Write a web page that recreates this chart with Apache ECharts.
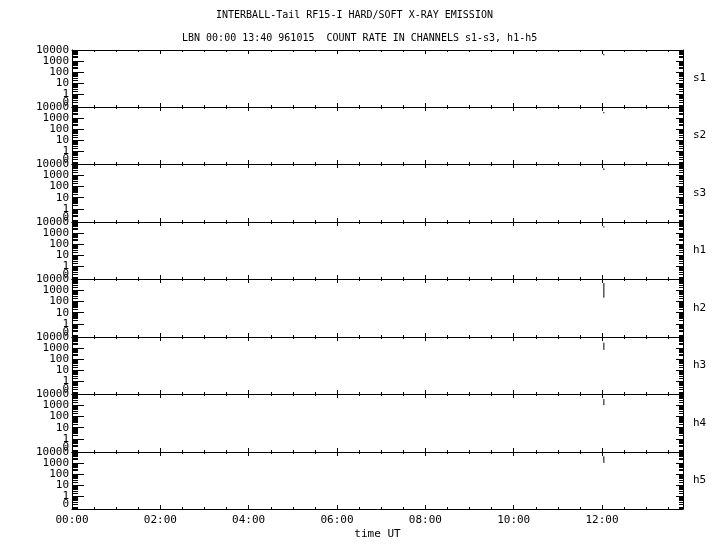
<!DOCTYPE html>
<html><head><meta charset="utf-8">
<script src="https://cdn.jsdelivr.net/npm/echarts@6/dist/echarts.min.js"></script>
<style>html,body{margin:0;padding:0;background:#fff}#c{width:720px;height:550px}</style>
</head><body><div id="c"></div>
<script>
// ---- data ----
const titleLine1 = 'INTERBALL-Tail RF15-I HARD/SOFT X-RAY EMISSION';
const titleLine2 = 'LBN 00:00 13:40 961015  COUNT RATE IN CHANNELS s1-s3, h1-h5';
const channels = ['s1', 's2', 's3', 'h1', 'h2', 'h3', 'h4', 'h5'];
// time of samples, minutes after 00:00 UT
const sampleTimes = [722.5, 722.5];
const s1 = [4400, 3300];
const s2 = [3540, 2700];
const s3 = [4100, 2880];
const h1 = [4100, 3130];
const h2 = [4365, 219];
const h3 = [3070, 675];
const h4 = [3540, 1020];
const h5 = [4100, 1020];
const channelValues = [s1, s2, s3, h1, h2, h3, h4, h5];
const xMajorTicks = [0, 120, 240, 360, 480, 600, 720];
const xMinorTicks = [30, 60, 90, 150, 180, 210, 270, 300, 330, 390, 420, 450, 510, 540, 570, 630, 660, 690, 750, 780, 810];
const yMajorTicks = [1, 10, 100, 1000, 10000];
const yZeroLabelValue = [0.19];
const yMinorTicks = [0.07, 0.08, 0.09, 0.1,
  0.2, 0.3, 0.4, 0.5, 0.6, 0.7, 0.8, 0.9,
  2, 3, 4, 5, 6, 7, 8, 9,
  20, 30, 40, 50, 60, 70, 80, 90,
  200, 300, 400, 500, 600, 700, 800, 900,
  2000, 3000, 4000, 5000, 6000, 7000, 8000, 9000];
const X_MIN = 0, X_MAX = 830, Y_MIN = 0.068, Y_MAX = 10000;

// ---- chart ----
const FONT = 'DejaVu Sans Mono';
const black = '#000';
const pad = n => (n < 10 ? '0' : '') + n;
const fmtTime = v => pad(Math.floor(v / 60)) + ':' + pad(Math.round(v % 60));
const labelStyle = { color: black, fontFamily: FONT, fontSize: 11 };

const grids = [], xAxes = [], yAxes = [], series = [];
const top0 = 49.5, ph = 57.45;
for (let i = 0; i < channels.length; i++) {
  const t = Math.round(top0 + i * ph), b = Math.round(top0 + (i + 1) * ph);
  grids.push({ left: 72, width: 611, top: t, height: b - t });
  const last = i === channels.length - 1;
  const xBase = { gridIndex: i, type: 'value', min: X_MIN, max: X_MAX, splitLine: { show: false } };
  // bottom major
  xAxes.push(Object.assign({}, xBase, {
    position: 'bottom',
    axisLine: { show: true, onZero: false, lineStyle: { color: black, width: 1 } },
    axisTick: { show: true, inside: true, length: 4, customValues: xMajorTicks, lineStyle: { color: black } },
    axisLabel: Object.assign({ show: last, customValues: xMajorTicks, formatter: fmtTime, margin: 6 }, labelStyle),
    name: last ? 'time UT' : '', nameLocation: 'middle', nameGap: 20,
    nameTextStyle: labelStyle
  }));
  // bottom minor
  xAxes.push(Object.assign({}, xBase, {
    position: 'bottom',
    axisLine: { show: false, onZero: false },
    axisTick: { show: true, inside: true, length: 2, customValues: xMinorTicks, lineStyle: { color: black } },
    axisLabel: { show: false }
  }));
  // top major
  xAxes.push(Object.assign({}, xBase, {
    position: 'top',
    axisLine: { show: true, onZero: false, lineStyle: { color: black, width: 1 } },
    axisTick: { show: true, inside: true, length: 4, customValues: xMajorTicks, lineStyle: { color: black } },
    axisLabel: { show: false }
  }));
  // top minor
  xAxes.push(Object.assign({}, xBase, {
    position: 'top',
    axisLine: { show: false, onZero: false },
    axisTick: { show: true, inside: true, length: 2, customValues: xMinorTicks, lineStyle: { color: black } },
    axisLabel: { show: false }
  }));

  const yBase = { gridIndex: i, type: 'log', logBase: 10, min: Y_MIN, max: Y_MAX, splitLine: { show: false } };
  // left major with decade labels
  yAxes.push(Object.assign({}, yBase, {
    position: 'left',
    axisLine: { show: true, onZero: false, lineStyle: { color: black, width: 1 } },
    axisTick: { show: true, inside: true, length: 12, customValues: yMajorTicks, lineStyle: { color: black } },
    axisLabel: Object.assign({
      show: true, customValues: yMajorTicks, margin: 3, showMinLabel: true, showMaxLabel: true,
      formatter: v => String(Math.round(v))
    }, labelStyle)
  }));
  // left minor with the "0" label
  yAxes.push(Object.assign({}, yBase, {
    position: 'left',
    axisLine: { show: false, onZero: false },
    axisTick: { show: true, inside: true, length: 6, customValues: yMinorTicks, lineStyle: { color: black } },
    axisLabel: Object.assign({ show: true, customValues: yZeroLabelValue, margin: 3, formatter: () => '0' }, labelStyle)
  }));
  // right major with channel name
  yAxes.push(Object.assign({}, yBase, {
    position: 'right',
    axisLine: { show: true, onZero: false, lineStyle: { color: black, width: 1 } },
    axisTick: { show: true, inside: true, length: 7, customValues: yMajorTicks, lineStyle: { color: black } },
    axisLabel: { show: false },
    name: channels[i], nameLocation: 'middle', nameRotate: 0, nameGap: 10,
    nameTextStyle: Object.assign({ align: 'left', verticalAlign: 'middle' }, labelStyle)
  }));
  // right minor
  yAxes.push(Object.assign({}, yBase, {
    position: 'right',
    axisLine: { show: false, onZero: false },
    axisTick: { show: true, inside: true, length: 4, customValues: yMinorTicks, lineStyle: { color: black } },
    axisLabel: { show: false }
  }));

  series.push({
    name: channels[i], type: 'line', xAxisIndex: 4 * i, yAxisIndex: 4 * i,
    data: sampleTimes.map((t, k) => [t, channelValues[i][k]]),
    symbol: 'none', lineStyle: { color: black, width: 1 }, silent: true
  });
}

const chart = echarts.init(document.getElementById('c'), null, { renderer: 'canvas' });
chart.setOption({
  backgroundColor: '#fff',
  animation: false,
  title: [
    { text: titleLine1, left: 216, top: 9, padding: 0, textStyle: { color: black, fontFamily: FONT, fontSize: 10, fontWeight: 'normal', lineHeight: 12 } },
    { text: titleLine2, left: 182, top: 32, padding: 0, textStyle: { color: black, fontFamily: FONT, fontSize: 10, fontWeight: 'normal', lineHeight: 12 } }
  ],
  grid: grids,
  xAxis: xAxes,
  yAxis: yAxes,
  series: series
});
</script>
</body></html>
